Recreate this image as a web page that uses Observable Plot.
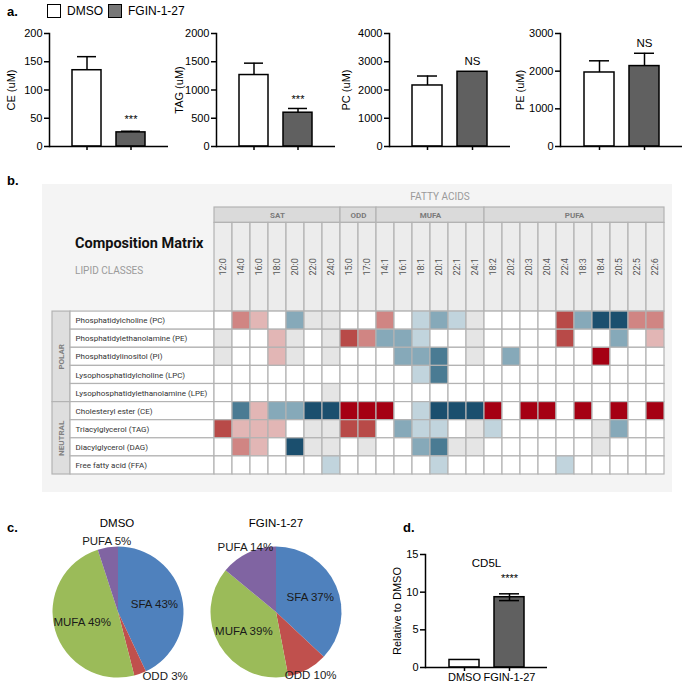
<!DOCTYPE html>
<html><head><meta charset="utf-8">
<script src="https://cdn.jsdelivr.net/npm/d3@7"></script>
<script src="https://cdn.jsdelivr.net/npm/@observablehq/plot@0.6"></script>
<style>
body{margin:0;background:#fff;}
#fig{position:relative;width:685px;height:683px;overflow:hidden;font-family:"Liberation Sans",Arial,sans-serif;color:#000;}
.t{position:absolute;white-space:nowrap;line-height:1;}
svg{overflow:visible;}
</style></head>
<body><div id="fig"></div>
<script>
// ---------- DATA ----------
const treatments = ["DMSO", "FGIN-1-27"];
const ceMeans = [135, 25];
const ceErrors = [24, 2];
const tagMeans = [1265, 598];
const tagErrors = [210, 75];
const pcMeans = [2160, 2645];
const pcErrors = [335, 0];
const peMeans = [1965, 2135];
const peErrors = [310, 340];
const ceTicks = [0, 50, 100, 150, 200];
const tagTicks = [0, 500, 1000, 1500, 2000];
const pcTicks = [0, 1000, 2000, 3000, 4000];
const peTicks = [0, 1000, 2000, 3000];
const panelASig = ["***", "***", "NS", "NS"];

const cd5lMeans = [1, 9.33];
const cd5lErrors = [0, 0.45];
const cd5lTicks = [0, 5, 10, 15];

const lipidClasses = ["Phosphatidylcholine (PC)", "Phosphatidylethanolamine (PE)", "Phosphatidylinositol (PI)",
  "Lysophosphatidylcholine (LPC)", "Lysophosphatidylethanolamine (LPE)", "Cholesteryl ester (CE)",
  "Triacylglycerol (TAG)", "Diacylglycerol (DAG)", "Free fatty acid (FFA)"];
const lipidGroups = ["POLAR", "NEUTRAL"];
const lipidGroupSizes = [5, 4];
const fattyAcids = ["12:0","14:0","16:0","18:0","20:0","22:0","24:0","15:0","17:0",
  "14:1","16:1","18:1","20:1","22:1","24:1",
  "18:2","20:2","20:3","20:4","22:4","18:3","18:4","20:5","22:5","22:6"];
const faGroups = ["SAT", "ODD", "MUFA", "PUFA"];
const faGroupSizes = [7, 2, 6, 10];
const N = null; // not detected (grey)
const matrixRows = [
  [0, 2, 1, 0,-2, N, N, 0, 0, 2, 0,-1,-2,-1, N, 0, 0, 0, 0, 3,-2,-4,-4, 2, 2],
  [N, 0, 0, 1, N, 0, N, 3, 2,-2,-2,-1, 0, 0, N, 0, 0, 0, 0, 3, 0, 0,-2, 0, 1],
  [N, 0, 0, 1, N, 0, N, 0, 0, 0,-2,-2,-3, 0, N, 0,-2, 0, 0, 0, 0, 4, 0, 0, 0],
  [0, 0, 0, 0, 0, 0, 0, 0, 0, 0, 0,-1,-3, 0, 0, 0, 0, 0, 0, 0, 0, 0, 0, 0, 0],
  [0, 0, 0, 0, 0, 0, N, 0, 0, 0, 0, 0, 0, 0, 0, 0, 0, 0, 0, 0, 0, 0, 0, 0, 0],
  [0,-3, 1,-2,-2,-4,-4, 4, 4, 4, 0,-1,-4,-4,-4, 4, 0, 4, 4, 0, 4, 0, 4, 0, 4],
  [3, 1, 1, 1, 0, N, N, 3, 3, 0,-2,-1,-1, 0, N,-1, 0, 0, 0, 0, 0, N,-2, 0, 0],
  [0, 2, 1, 0,-4, N, N, 0, N, 0, 0,-2,-3, N, N, 0, 0, 0, 0, 0, 0, N, 0, 0, 0],
  [0, 0, 0, 0, 0, 0,-1, 0, 0, 0, 0, 0,-1, 0, 0, 0, 0, 0, 0,-1, 0, 0, 0, 0, 0]
];
const matrixCodes = ["-4","-3","-2","-1","0","1","2","3","4","NA"];

const pieCategories = ["SFA", "ODD", "MUFA", "PUFA"];
const dmsoShares = [43, 3, 49, 5];
const fginShares = [37, 10, 39, 14];

// ---------- STYLE ----------
const barColors = ["#ffffff", "#606060"];
const matrixColors = ["#1b4f6e","#4a7b93","#86a9b9","#c1d4dd","#ffffff","#e2b6b5","#d08583","#b84a48","#a50013","#e5e5e5"];
const pieColors = ["#4f81bd", "#c0504d", "#9bbb59", "#8064a2"];
const gridStroke = "#b3b3b3";
const fig = document.getElementById("fig");

function put(node, left, top) {
  node.style.position = "absolute";
  node.style.left = left + "px";
  node.style.top = top + "px";
  fig.appendChild(node);
}
function txt(s, x, y, css, anchor) {
  const d = document.createElement("div");
  d.className = "t";
  d.textContent = s;
  Object.assign(d.style, css || {});
  const tx = anchor === "middle" ? "-50%" : anchor === "end" ? "-100%" : "0";
  d.style.left = x + "px"; d.style.top = y + "px";
  d.style.transform = `translate(${tx},-50%)`;
  fig.appendChild(d);
  return d;
}

// ---------- BAR CHART ----------
function barChart({means, errors, sig, ticks, label, labelOffset, frameWidth, marginLeft, marginTop, marginBottom, height, showX, twoSided, sigDy, title, titleDy}) {
  const data = treatments.map((t, i) => ({t, m: means[i], e: errors[i], s: i === 1 ? sig : ""}));
  const errData = data.filter(d => d.e > 0);
  const xAxisOpts = {tickSize: 4, strokeWidth: 1.5, label: null, tickPadding: 2, fontSize: 11};
  if (!showX) xAxisOpts.tickFormat = () => "";
  const marks = [
    Plot.barY(data, {x: "t", y: "m", fill: "t", stroke: "#000", strokeWidth: 1.5}),
    Plot.ruleX(errData, {x: "t", y1: d => twoSided ? d.m - d.e : d.m, y2: d => d.m + d.e, stroke: "#000", strokeWidth: 1.5}),
    Plot.tickY(errData, {x: "t", y: d => d.m + d.e, stroke: "#000", strokeWidth: 1.5, insetLeft: 5, insetRight: 5})
  ];
  if (twoSided) marks.push(Plot.tickY(errData, {x: "t", y: d => d.m - d.e, stroke: "#000", strokeWidth: 1.5, insetLeft: 5, insetRight: 5}));
  marks.push(
    Plot.text(data, {x: "t", y: d => d.m + d.e, text: "s", dy: sigDy, fontSize: sig === "NS" ? 11.5 : 11}),
    Plot.ruleY([0], {stroke: "#000", strokeWidth: 1.5}),
    Plot.frame({anchor: "left", stroke: "#000", strokeWidth: 1.5}),
    Plot.axisY({ticks, tickFormat: "d", tickSize: 5, tickPadding: 2, strokeWidth: 1.5, fontSize: 11, label, labelAnchor: "center", labelOffset, labelArrow: "none"}),
    Plot.axisX(xAxisOpts)
  );
  if (title) marks.push(Plot.text([title], {frameAnchor: "top", dy: titleDy, fontSize: 11.5}));
  return Plot.plot({
    width: marginLeft + frameWidth + 8, height,
    marginLeft, marginRight: 8, marginTop, marginBottom,
    style: {background: "transparent", fontFamily: "'Liberation Sans', Arial, sans-serif", overflow: "visible", color: "#000"},
    x: {domain: treatments, paddingInner: 0.34, paddingOuter: 0.5, axis: null},
    y: {domain: [0, ticks[ticks.length - 1]], axis: null},
    color: {domain: treatments, range: barColors},
    marks
  });
}

// ---------- PANEL A ----------
txt("a.", 7, 11, {fontWeight: "bold", fontSize: "13px"});
const sw1 = document.createElement("div");
Object.assign(sw1.style, {width: "14px", height: "14px", border: "1.5px solid #000", background: "#fff", boxSizing: "border-box"});
put(sw1, 47, 4);
txt("DMSO", 67, 11, {fontSize: "12px"});
const sw2 = document.createElement("div");
Object.assign(sw2.style, {width: "14px", height: "14px", border: "1.5px solid #000", background: "#777", boxSizing: "border-box"});
put(sw2, 108, 4);
txt("FGIN-1-27", 128, 11, {fontSize: "12px"});

const aSpecs = [
  {means: ceMeans, errors: ceErrors, ticks: ceTicks, label: "CE (uM)", ax: 49, fw: 119, lo: 42, sigDy: -12},
  {means: tagMeans, errors: tagErrors, ticks: tagTicks, label: "TAG (uM)", ax: 216, fw: 119, lo: 41, sigDy: -9},
  {means: pcMeans, errors: pcErrors, ticks: pcTicks, label: "PC (uM)", ax: 389, fw: 121, lo: 47, sigDy: -10},
  {means: peMeans, errors: peErrors, ticks: peTicks, label: "PE (uM)", ax: 560, fw: 122, lo: 44, sigDy: -10}
];
aSpecs.forEach((s, i) => {
  const ml = 49;
  const p = barChart({means: s.means, errors: s.errors, sig: panelASig[i], ticks: s.ticks, label: s.label,
    labelOffset: s.lo, frameWidth: s.fw, marginLeft: ml, marginTop: 13, marginBottom: 15, height: 141,
    showX: false, twoSided: false, sigDy: s.sigDy});
  put(p, s.ax - ml, 20);
});

// ---------- PANEL B ----------
txt("b.", 7, 180, {fontWeight: "bold", fontSize: "13px"});
const bg = document.createElement("div");
Object.assign(bg.style, {width: "630px", height: "308px", background: "#f4f4f4"});
put(bg, 42, 184);
const roboto = "Roboto, 'Noto Sans', sans-serif";
txt("FATTY ACIDS", 440, 197, {fontFamily: roboto, fontSize: "10px", color: "#9a9a9a"}, "middle");
txt("Composition Matrix", 75, 244, {fontFamily: roboto, fontSize: "14.5px", fontWeight: "bold", color: "#111"});
txt("LIPID CLASSES", 75, 271, {fontFamily: roboto, fontSize: "10px", color: "#9a9a9a"});

const faStarts = faGroupSizes.map((s, i) => d3.sum(faGroupSizes.slice(0, i)));
const faGroupData = faGroups.map((g, i) => ({g, x1: faStarts[i], x2: faStarts[i] + faGroupSizes[i]}));
const lgStarts = lipidGroupSizes.map((s, i) => d3.sum(lipidGroupSizes.slice(0, i)));
const lipidGroupData = lipidGroups.map((g, i) => ({g, y1: lgStarts[i], y2: lgStarts[i] + lipidGroupSizes[i]}));
const cells = [];
matrixRows.forEach((row, r) => row.forEach((v, c) => cells.push({r, c, code: v === null ? "NA" : String(v)})));

const heat = Plot.plot({
  width: 685, height: 312, margin: 0,
  style: {background: "transparent", fontFamily: roboto, overflow: "visible"},
  x: {domain: [-9, 25], range: [52, 664], axis: null},
  y: {domain: [-5.75, 9], range: [27, 294], axis: null},
  color: {type: "ordinal", domain: matrixCodes, range: matrixColors},
  marks: [
    Plot.rect(faGroupData, {x1: "x1", x2: "x2", y1: -5.75, y2: -4.9, fill: "#dadada", stroke: gridStroke, strokeWidth: 1.2}),
    Plot.text(faGroupData, {x: d => (d.x1 + d.x2) / 2, y: -5.32, text: "g", fontSize: 8, fontWeight: "bold", fill: "#7a7a7a"}),
    Plot.rect(fattyAcids, {x1: (d, i) => i, x2: (d, i) => i + 1, y1: -4.9, y2: 0, fill: "#ececec", stroke: gridStroke, strokeWidth: 1.2}),
    Plot.text(fattyAcids, {x: (d, i) => i + 0.5, y: -2.47, text: d => d, rotate: -90, fontSize: 9, fill: "#555"}),
    Plot.rect(lipidGroupData, {x1: -9, x2: -8, y1: "y1", y2: "y2", fill: "#dedede", stroke: gridStroke, strokeWidth: 1.2}),
    Plot.text(lipidGroupData, {x: -8.5, y: d => (d.y1 + d.y2) / 2, text: "g", rotate: -90, fontSize: 8, fontWeight: "bold", fill: "#808080"}),
    Plot.rect(lipidClasses, {x1: -8, x2: 0, y1: (d, i) => i, y2: (d, i) => i + 1, fill: "#fff", stroke: gridStroke, strokeWidth: 1.2}),
    Plot.text(lipidClasses, {x: -7.72, y: (d, i) => i + 0.5, text: d => d, textAnchor: "start", fontSize: 8, fill: "#333"}),
    Plot.rect(cells, {x1: "c", x2: d => d.c + 1, y1: "r", y2: d => d.r + 1, fill: "code", stroke: gridStroke, strokeWidth: 1.2})
  ]
});
put(heat, 0, 180);

// ---------- PANEL C ----------
txt("c.", 7, 527, {fontWeight: "bold", fontSize: "13px"});
function pieChart(shares, labelRadius, labelAnchor) {
  const data = pieCategories.map((c, i) => ({c, v: shares[i], color: pieColors[i], rr: labelRadius[i], anchor: labelAnchor[i]}));
  const r = 65.5;
  const pieMark = (index, scales, values, dims) => {
    const cx = dims.width / 2, cy = 82;
    const g = d3.create("svg:g").attr("transform", `translate(${cx},${cy})`);
    const arcs = d3.pie().sort(null).value(d => d.v)(data);
    const arc = d3.arc().innerRadius(0).outerRadius(r);
    g.selectAll("path").data(arcs).join("path").attr("d", arc).attr("fill", d => d.data.color);
    g.selectAll("text").data(arcs).join("text")
      .attr("x", d => Math.sin((d.startAngle + d.endAngle) / 2) * r * d.data.rr)
      .attr("y", d => Math.min(-Math.cos((d.startAngle + d.endAngle) / 2) * r * d.data.rr, 64))
      .attr("dy", "0.35em")
      .attr("text-anchor", d => d.data.anchor)
      .attr("font-size", 11.5)
      .attr("fill", "#1a1a1a")
      .text(d => `${d.data.c} ${d.data.v}%`);
    return g.node();
  };
  return Plot.plot({
    width: 170, height: 153, margin: 0,
    style: {background: "transparent", fontFamily: "'Liberation Sans', Arial, sans-serif", overflow: "visible"},
    marks: [pieMark]
  });
}
txt("DMSO", 117, 524, {fontSize: "11.5px"}, "middle");
txt("FGIN-1-27", 276, 524, {fontSize: "11.5px"}, "middle");
put(pieChart(dmsoShares, [0.57, 1.1, 0.57, 1.1], ["middle", "start", "middle", "middle"]), 117.5 - 85, 530);
put(pieChart(fginShares, [0.57, 1.1, 0.57, 1.1], ["middle", "middle", "middle", "middle"]), 276 - 85, 530);

// ---------- PANEL D ----------
txt("d.", 403, 527, {fontWeight: "bold", fontSize: "13px"});
const dml = 45;
const dPlot = barChart({means: cd5lMeans, errors: cd5lErrors, sig: "****", ticks: cd5lTicks, label: "Relative to DMSO",
  labelOffset: 32, frameWidth: 122, marginLeft: dml, marginTop: 16, marginBottom: 16, height: 145,
  showX: true, twoSided: true, sigDy: -15, title: "CD5L", titleDy: 4});
put(dPlot, 425 - dml, 538);
</script>
</body></html>
